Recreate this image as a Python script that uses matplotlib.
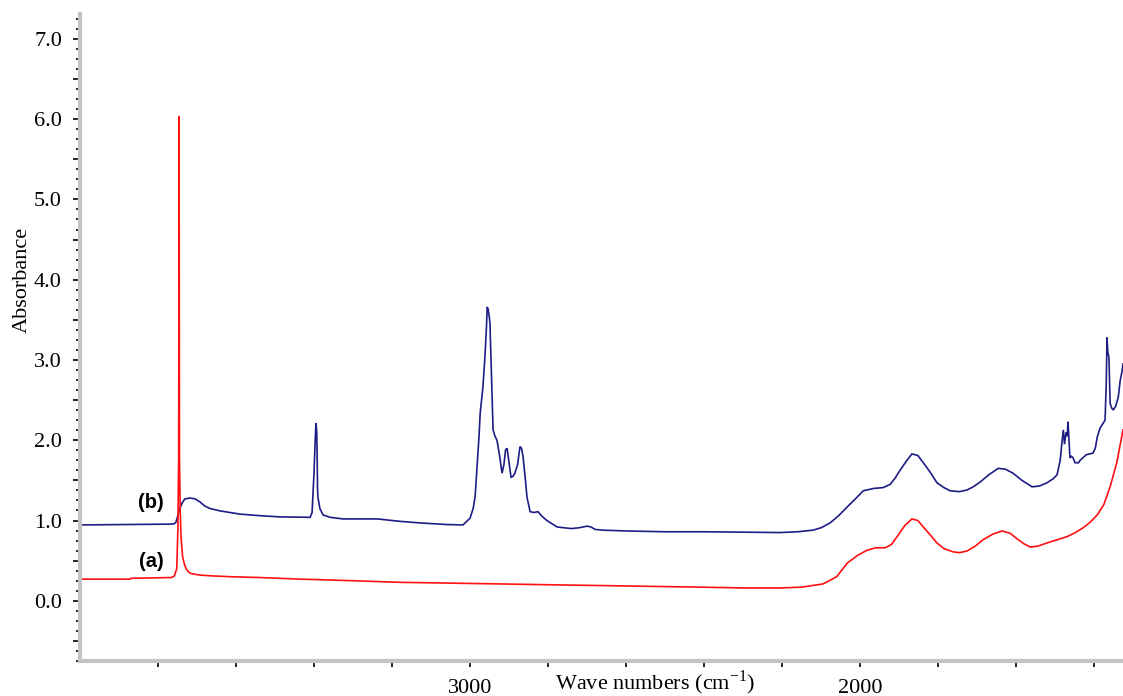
import matplotlib
matplotlib.use("Agg")
import matplotlib.pyplot as plt
from matplotlib.ticker import MultipleLocator, FixedLocator, FuncFormatter

# ---- data ----
wn_a = [4000, 3872, 3870, 3765, 3758, 3752, 3749, 3747, 3746, 3745, 3743, 3741, 3737,
        3732, 3728, 3722, 3716, 3705, 3692, 3660, 3615, 3540, 3436, 3300, 3179, 3050,
        2923, 2800, 2667, 2540, 2410, 2300, 2205, 2150, 2095, 2060, 2033, 2005, 1982,
        1960, 1936, 1920, 1905, 1885, 1867, 1852, 1838, 1820, 1803, 1785, 1762, 1745,
        1726, 1705, 1685, 1660, 1636, 1615, 1597, 1580, 1564, 1545, 1521, 1495, 1469,
        1448, 1428, 1410, 1392, 1375, 1359, 1342, 1326]
ab_a = [0.27, 0.27, 0.28, 0.29, 0.31, 0.40, 0.90, 1.79, 6.04, 1.79, 1.10, 0.80, 0.55,
        0.45, 0.40, 0.36, 0.34, 0.33, 0.32, 0.31, 0.30, 0.29, 0.27, 0.25, 0.23, 0.22,
        0.21, 0.20, 0.19, 0.18, 0.17, 0.16, 0.16, 0.17, 0.21, 0.30, 0.47, 0.57, 0.63,
        0.66, 0.66, 0.70, 0.80, 0.94, 1.02, 1.00, 0.92, 0.82, 0.72, 0.65, 0.61, 0.60,
        0.62, 0.68, 0.76, 0.83, 0.87, 0.84, 0.77, 0.71, 0.67, 0.68, 0.72, 0.76, 0.80,
        0.85, 0.91, 0.98, 1.07, 1.20, 1.42, 1.72, 2.13]

wn_b = [4000, 3872, 3770, 3758, 3754, 3748, 3744, 3738, 3731, 3718, 3705, 3692, 3680,
        3667, 3641, 3615, 3590, 3538, 3487, 3410, 3405, 3403, 3400, 3397, 3395, 3393,
        3392, 3391, 3390, 3385, 3377, 3359, 3326, 3238, 3180, 3128, 3060, 3018, 3000,
        2992, 2987, 2982, 2977, 2974, 2967, 2962, 2958, 2956, 2954, 2951, 2949, 2944,
        2941, 2936, 2931, 2924, 2918, 2913, 2909, 2905, 2900, 2895, 2890, 2885, 2878,
        2872, 2868, 2864, 2858, 2854, 2846, 2836, 2826, 2815, 2803, 2790, 2777, 2760,
        2740, 2720, 2700, 2690, 2680, 2660, 2600, 2500, 2400, 2300, 2205, 2160, 2121,
        2100, 2077, 2055, 2033, 2012, 1992, 1965, 1941, 1923, 1910, 1897, 1880, 1867,
        1852, 1838, 1820, 1803, 1785, 1769, 1745, 1726, 1710, 1692, 1670, 1646, 1628,
        1608, 1585, 1559, 1540, 1521, 1505, 1495, 1487, 1482, 1479, 1476, 1472, 1469,
        1467, 1464, 1462, 1458, 1454, 1449, 1444, 1440, 1436, 1420, 1403, 1397, 1392,
        1385, 1377, 1372, 1369, 1367, 1365, 1362, 1359, 1355, 1351, 1345, 1338, 1333,
        1328, 1326]
ab_b = [0.945, 0.95, 0.955, 0.96, 0.98, 1.08, 1.15, 1.22, 1.27, 1.28, 1.27, 1.23, 1.18,
        1.15, 1.12, 1.10, 1.08, 1.06, 1.045, 1.04, 1.10, 1.29, 1.60, 2.00, 2.21, 2.10,
        1.80, 1.40, 1.29, 1.15, 1.07, 1.04, 1.02, 1.02, 0.99, 0.97, 0.95, 0.945, 1.03,
        1.15, 1.30, 1.67, 2.05, 2.34, 2.66, 3.03, 3.40, 3.66, 3.64, 3.55, 3.46, 2.62,
        2.13, 2.05, 2.00, 1.80, 1.59, 1.70, 1.88, 1.90, 1.72, 1.54, 1.55, 1.59, 1.70,
        1.92, 1.90, 1.79, 1.50, 1.29, 1.11, 1.10, 1.11, 1.05, 1.00, 0.96, 0.92, 0.91,
        0.90, 0.91, 0.93, 0.92, 0.89, 0.88, 0.87, 0.86, 0.86, 0.855, 0.85, 0.86, 0.88,
        0.91, 0.97, 1.06, 1.17, 1.27, 1.37, 1.40, 1.41, 1.45, 1.53, 1.63, 1.75, 1.83,
        1.81, 1.72, 1.60, 1.47, 1.41, 1.37, 1.36, 1.38, 1.42, 1.48, 1.57, 1.65, 1.64,
        1.59, 1.50, 1.42, 1.43, 1.47, 1.52, 1.57, 1.75, 2.00, 2.13, 1.95, 2.10, 2.05,
        2.23, 1.95, 1.78, 1.80, 1.78, 1.72, 1.72, 1.72, 1.75, 1.82, 1.84, 1.90, 2.04,
        2.15, 2.21, 2.25, 2.70, 3.28, 3.10, 3.03, 2.46, 2.40, 2.38, 2.42, 2.54, 2.75,
        2.87, 2.95]

x_ticks = [3800, 3600, 3400, 3200, 3000, 2800, 2600, 2400, 2200, 2000, 1800, 1600, 1400]
x_labeled = [3000, 2000]

label_a = "(a)"
label_b = "(b)"
label_pos_x = 3818
label_a_y = 0.49
label_b_y = 1.22

# ---- figure ----
fig = plt.figure(figsize=(11.23, 6.96), dpi=100)
ax = fig.add_axes([80 / 1123, 35 / 696, 1043 / 1123, 647 / 696])

ax.plot(wn_b, ab_b, color="#1c1c84", lw=1.2, solid_joinstyle="miter")
ax.plot(wn_a, ab_a, color="#ff1010", lw=1.2, solid_joinstyle="miter")

ax.set_xlim(4000, 1326)
ax.set_ylim(-0.75, 7.31)

serif = ["Liberation Serif", "DejaVu Serif"]

# spines
for s in ["top", "right"]:
    ax.spines[s].set_visible(False)
for s in ["left", "bottom"]:
    ax.spines[s].set_color("#c4c4c4")
    ax.spines[s].set_linewidth(3.0)

# y ticks
ax.yaxis.set_major_locator(MultipleLocator(0.5))
ax.yaxis.set_minor_locator(MultipleLocator(0.125))
ax.yaxis.set_major_formatter(FuncFormatter(
    lambda v, p: f"{v:.1f}" if abs(v - round(v)) < 1e-6 else ""))
ax.tick_params(axis="y", which="major", direction="out", length=5, width=1.2,
               color="black", pad=8, labelsize=16)
ax.tick_params(axis="y", which="minor", direction="out", length=3, width=1.2,
               color="black")

# x ticks
ax.xaxis.set_major_locator(FixedLocator(x_ticks))
ax.xaxis.set_major_formatter(FuncFormatter(
    lambda v, p: f"{int(round(v))}" if int(round(v)) in x_labeled else ""))
ax.tick_params(axis="x", which="major", direction="out", length=4, width=1.2,
               color="black", pad=9, labelsize=16)

for lab in ax.get_xticklabels() + ax.get_yticklabels():
    lab.set_family(serif)

ax.set_ylabel("Absorbance", fontsize=16, family=serif)
ax.yaxis.set_label_coords(-0.046, 0.589)

ax.set_xlabel("Wave numbers (cm$^{\\mathregular{-1}}$)", fontsize=16, family=serif)
ax.xaxis.set_label_coords(0.551, -0.012)

ax.text(label_pos_x, label_b_y, label_b, fontsize=14.5, fontweight="bold",
        family=["Liberation Sans", "DejaVu Sans"], ha="center", va="center")
ax.text(label_pos_x, label_a_y, label_a, fontsize=14.5, fontweight="bold",
        family=["Liberation Sans", "DejaVu Sans"], ha="center", va="center")

fig.savefig("out.png", dpi=100)
